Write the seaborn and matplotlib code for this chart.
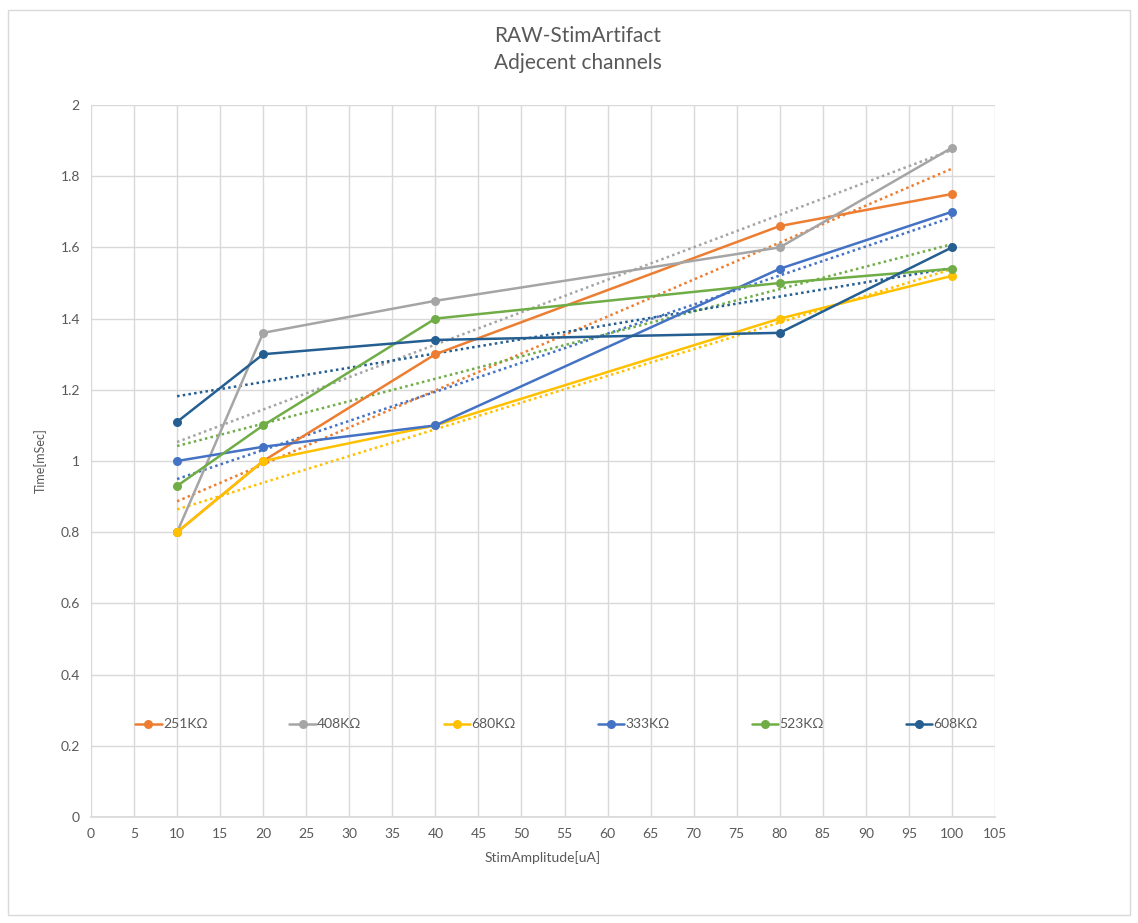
import matplotlib
matplotlib.use("Agg")
import matplotlib.pyplot as plt
from matplotlib.patches import Rectangle
from matplotlib.ticker import MultipleLocator, FuncFormatter
import seaborn as sns
import pandas as pd

# Stimulation amplitudes (uA)
amplitudes = [10, 20, 40, 80, 100]

# Artifact duration (mSec) per electrode impedance
series_names = ["251KΩ", "408KΩ", "680KΩ", "333KΩ", "523KΩ", "608KΩ"]
t_251 = [0.80, 1.00, 1.30, 1.66, 1.75]
t_408 = [0.80, 1.36, 1.45, 1.60, 1.88]
t_680 = [0.80, 1.00, 1.10, 1.40, 1.52]
t_333 = [1.00, 1.04, 1.10, 1.54, 1.70]
t_523 = [0.93, 1.10, 1.40, 1.50, 1.54]
t_608 = [1.11, 1.30, 1.34, 1.36, 1.60]
series_values = [t_251, t_408, t_680, t_333, t_523, t_608]

colors = ["#ED7D31", "#A5A5A5", "#FFC000", "#4472C4", "#70AD47", "#255E91"]

df = pd.DataFrame(
    [(name, x, y) for name, vals in zip(series_names, series_values)
     for x, y in zip(amplitudes, vals)],
    columns=["Impedance", "StimAmplitude", "Time"],
)

sns.set_theme(style="white")
plt.rcParams["font.family"] = ["Lato", "DejaVu Sans"]
text_color = "#595959"

fig = plt.figure(figsize=(11.38, 9.23), dpi=100)
ax = fig.add_axes([91 / 1138, 1 - 817 / 923, 904 / 1138, 712 / 923])

# Chart border
fig.patches.append(Rectangle((8 / 1138, 1 - 915 / 923), 1122 / 1138, 905 / 923,
                             transform=fig.transFigure, fill=False,
                             edgecolor="#D9D9D9", linewidth=1.0))

palette = dict(zip(series_names, colors))
sns.lineplot(data=df, x="StimAmplitude", y="Time", hue="Impedance",
             hue_order=series_names, palette=palette, marker="o",
             markersize=6.5, markeredgewidth=0, linewidth=1.8, ax=ax,
             legend=True, zorder=3)

# Linear trendlines
for name in series_names:
    sub = df[df["Impedance"] == name]
    sns.regplot(data=sub, x="StimAmplitude", y="Time", scatter=False, ci=None,
                color=palette[name], ax=ax, truncate=True,
                line_kws=dict(linestyle=(0, (1, 1.3)), linewidth=1.8, zorder=2))

ax.set_xlim(0, 105)
ax.set_ylim(0, 2)
ax.xaxis.set_major_locator(MultipleLocator(5))
ax.yaxis.set_major_locator(MultipleLocator(0.2))
ax.yaxis.set_major_formatter(FuncFormatter(lambda v, p: f"{v:g}"))
ax.grid(True, color="#D9D9D9", linewidth=1.0)
ax.set_axisbelow(True)
for side in ["left", "right", "top"]:
    ax.spines[side].set_visible(False)
ax.spines["bottom"].set_color("#D9D9D9")
ax.tick_params(axis="both", length=0, labelsize=10, labelcolor=text_color, pad=8)

ax.set_xlabel("StimAmplitude[uA]", fontsize=10, color=text_color, labelpad=8)
ax.set_ylabel("Time[mSec]", fontsize=9, color=text_color, labelpad=10)

fig.text(578 / 1138, 1 - 36 / 923, "RAW-StimArtifact", ha="center", va="center",
         fontsize=15, color=text_color)
fig.text(578 / 1138, 1 - 63 / 923, "Adjecent channels", ha="center", va="center",
         fontsize=15, color=text_color)

handles, labels = ax.get_legend_handles_labels()
leg = ax.legend(handles[:6], labels[:6], ncol=6, mode="expand",
                loc="center", bbox_to_anchor=(0.035, 0.09, 0.96, 0.08),
                frameon=False, fontsize=10, handlelength=1.9,
                handletextpad=0.1, labelcolor=text_color)

fig.savefig("out.png", dpi=100)
